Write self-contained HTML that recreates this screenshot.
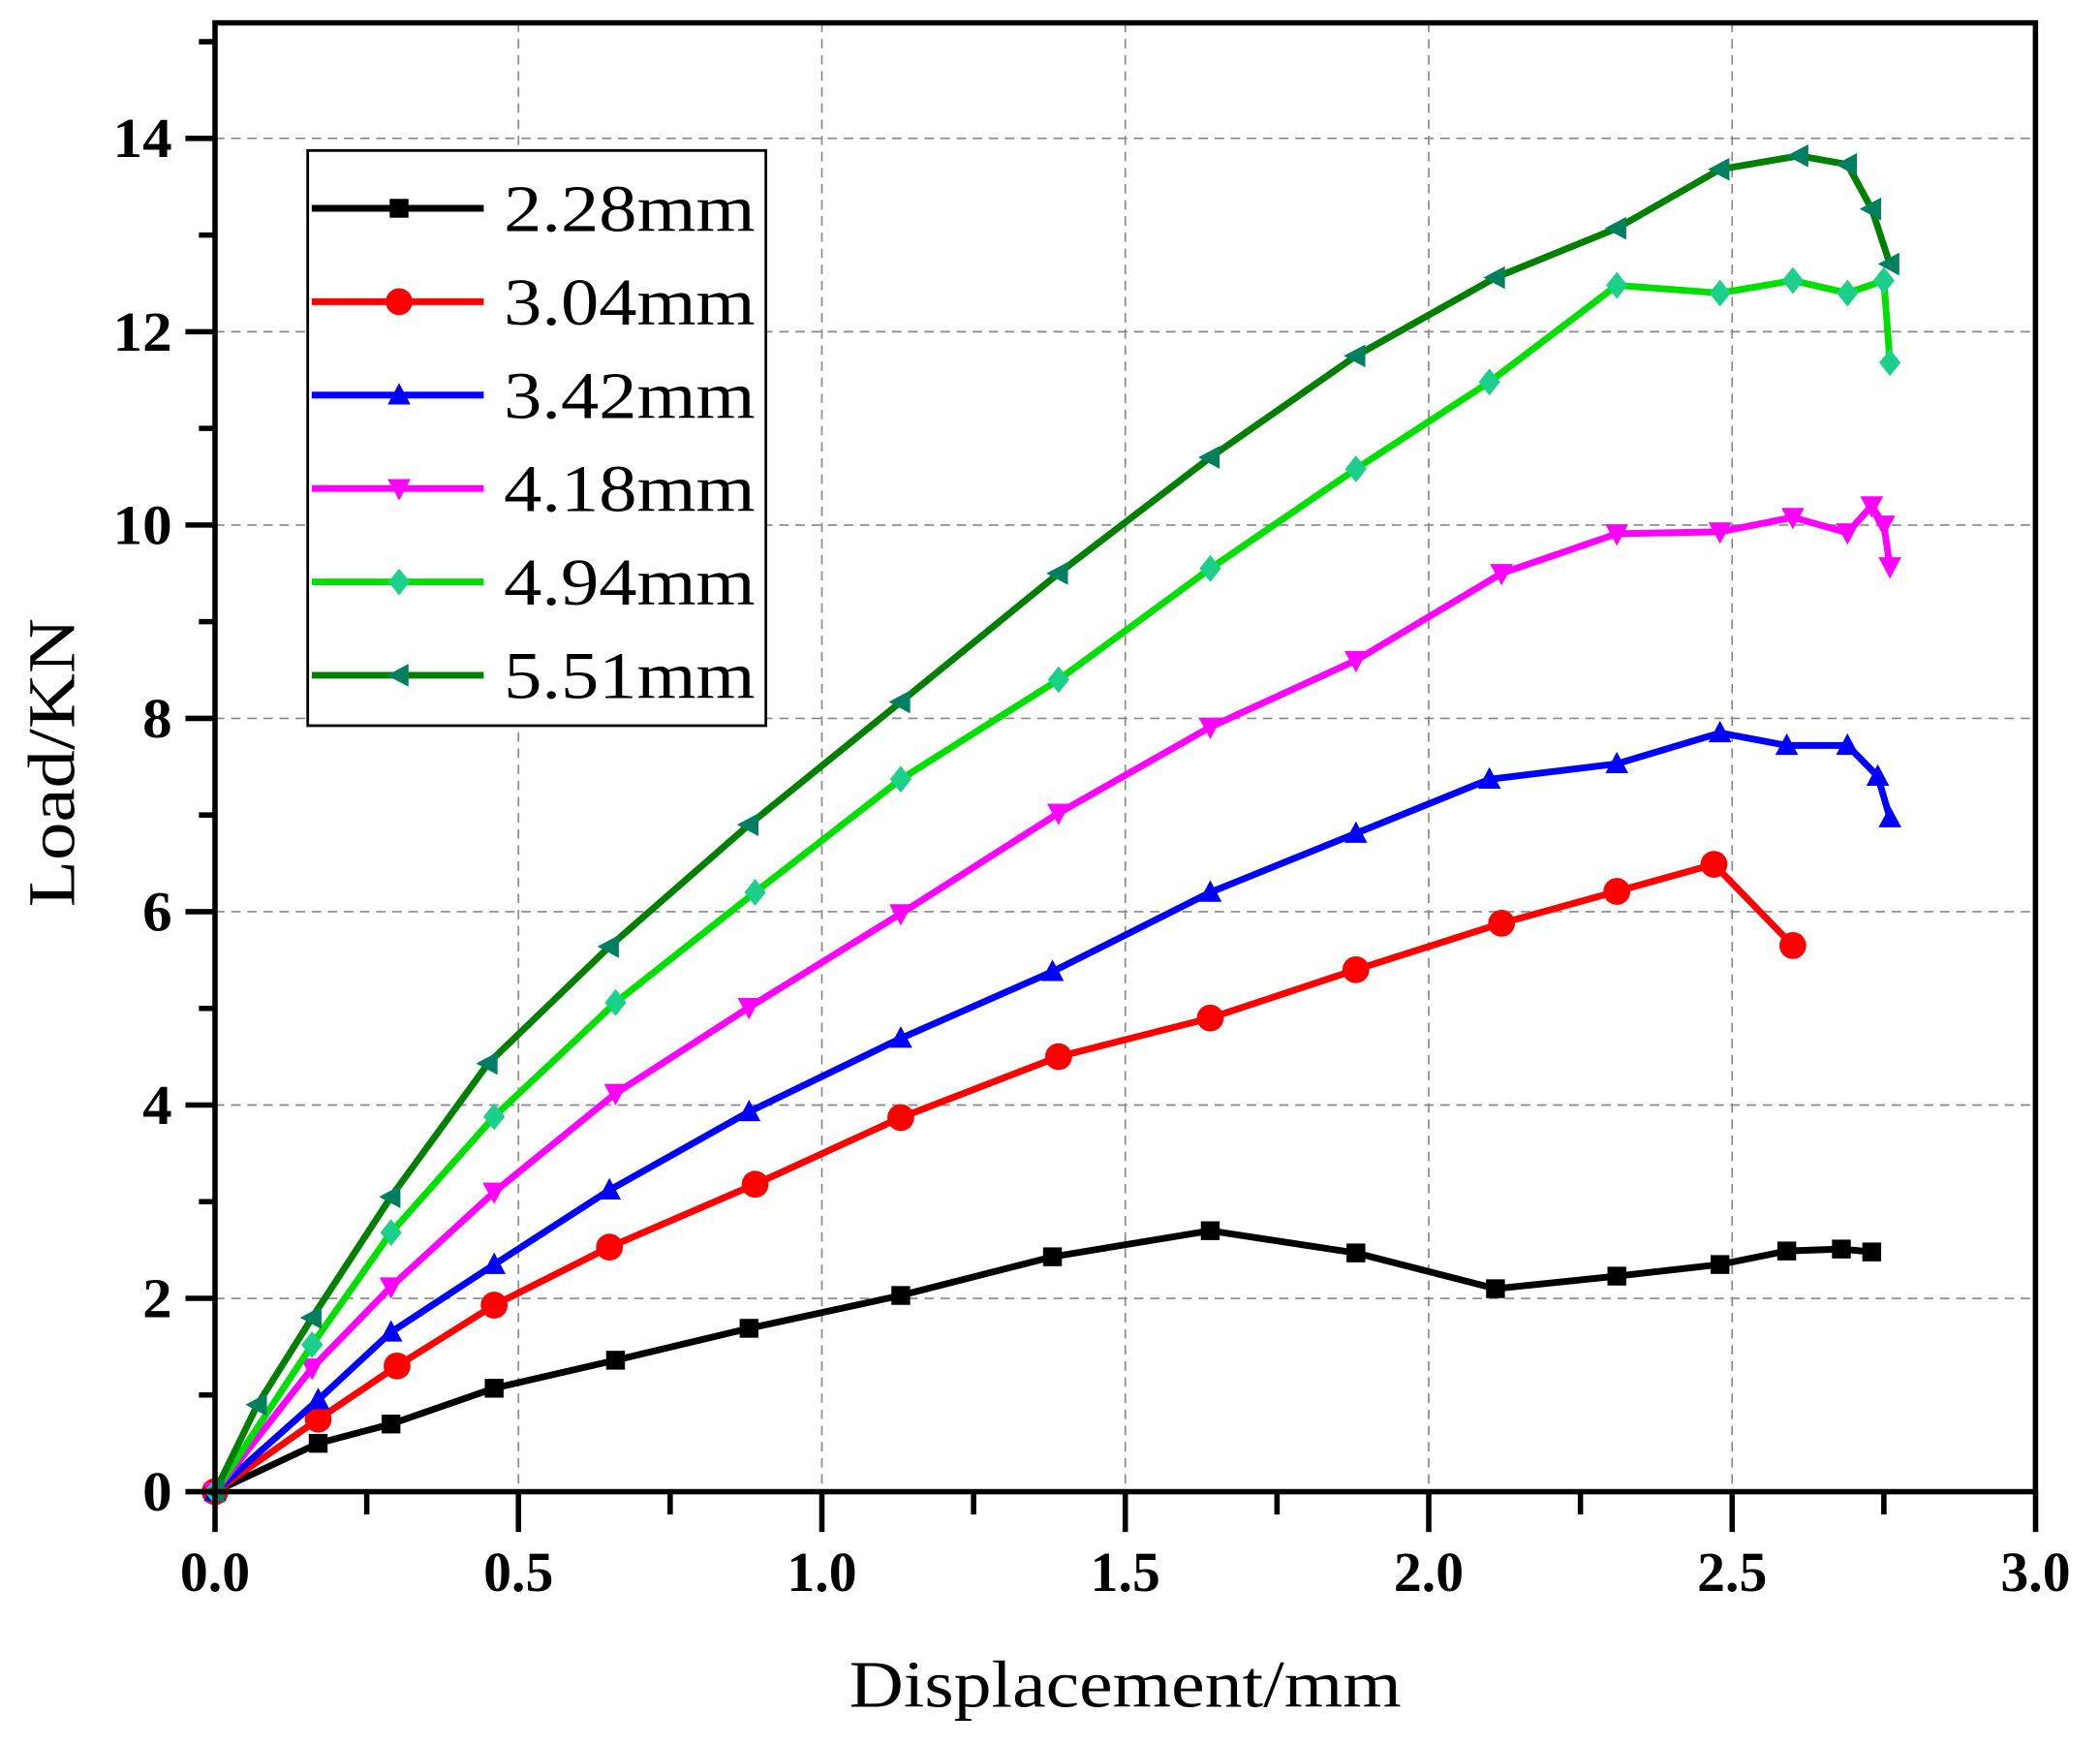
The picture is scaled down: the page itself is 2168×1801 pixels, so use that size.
<!DOCTYPE html>
<html><head><meta charset="utf-8"><style>html,body{margin:0;padding:0;background:#fff}svg{display:block}</style></head>
<body>
<svg id="s" xmlns="http://www.w3.org/2000/svg" width="2168" height="1801" viewBox="0 0 1563 1298.5">
<rect width="1563" height="1298.5" fill="#fff"/>
<g id="grid"></g><g id="data"></g><g id="axes"></g>
<text x="632" y="1270" font-family="Liberation Serif, serif" font-size="50" textLength="411" lengthAdjust="spacingAndGlyphs">Displacement/mm</text>
<text transform="translate(55,675) rotate(-90)" font-family="Liberation Serif, serif" font-size="50" textLength="215" lengthAdjust="spacingAndGlyphs">Load/KN</text>
<rect x="229" y="112" width="341" height="428" fill="#fff" stroke="#000" stroke-width="2"/>
<g id="leg"></g>
</svg>
<script>
var NS="http://www.w3.org/2000/svg";
function X(v){return 160+v*451.7}
function Y(v){return 1110-v*71.93}
function el(p,t,a){var e=document.createElementNS(NS,t);for(var k in a)e.setAttribute(k,a[k]);document.getElementById(p).appendChild(e);return e}
for(var i=1;i<=5;i++){el('grid','line',{x1:X(i*0.5),x2:X(i*0.5),y1:17,y2:1110,stroke:'#888','stroke-width':1.2,'stroke-dasharray':'7,5'})}
for(var j=2;j<=14;j+=2){el('grid','line',{x1:160,x2:1515,y1:Y(j),y2:Y(j),stroke:'#888','stroke-width':1.2,'stroke-dasharray':'7,5'})}
el('axes','rect',{x:160,y:17,width:1355,height:1093,fill:'none',stroke:'#000','stroke-width':4});
for(var i=0;i<=12;i++){var x=X(i*0.25),maj=i%2==0;el('axes','line',{x1:x,x2:x,y1:1110,y2:1110+(maj?30:17),stroke:'#000','stroke-width':4});
 if(maj){var t=el('axes','text',{x:x,y:1184,'font-family':'Liberation Serif, serif','font-size':42,'font-weight':'bold','text-anchor':'middle',textLength:52,lengthAdjust:'spacingAndGlyphs'});t.textContent=(i*0.25).toFixed(1);}}
for(var j=0;j<=15;j++){var y=Y(j),maj=j%2==0;el('axes','line',{x1:160,x2:160-(maj?22:12),y1:y,y2:y,stroke:'#000','stroke-width':4});
 if(maj){var s=String(j);var t=el('axes','text',{x:128,y:y+14,'font-family':'Liberation Serif, serif','font-size':42,'font-weight':'bold','text-anchor':'end',textLength:s.length*22,lengthAdjust:'spacingAndGlyphs'});t.textContent=s;}}
var S=[
{c:'#000',m:'#000',k:'sq',n:'2.28mm',d:[[0,0],[0.17,0.5],[0.29,0.7],[0.46,1.07],[0.66,1.36],[0.88,1.69],[1.13,2.03],[1.38,2.43],[1.64,2.7],[1.88,2.47],[2.11,2.1],[2.31,2.23],[2.48,2.35],[2.59,2.49],[2.68,2.51],[2.73,2.48]]},
{c:'#f00',m:'#f00',k:'ci',n:'3.04mm',d:[[0,0],[0.17,0.75],[0.3,1.3],[0.46,1.93],[0.65,2.53],[0.89,3.18],[1.13,3.87],[1.39,4.5],[1.64,4.9],[1.88,5.4],[2.12,5.88],[2.31,6.21],[2.47,6.49],[2.6,5.65]]},
{c:'#00f',m:'#00f',k:'up',n:'3.42mm',d:[[0,0],[0.17,0.95],[0.29,1.65],[0.46,2.35],[0.65,3.12],[0.88,3.93],[1.13,4.69],[1.38,5.38],[1.64,6.2],[1.88,6.81],[2.1,7.37],[2.31,7.53],[2.48,7.85],[2.59,7.72],[2.69,7.72],[2.74,7.4],[2.76,6.97]]},
{c:'#f0f',m:'#f0f',k:'dn',n:'4.18mm',d:[[0,0],[0.16,1.28],[0.29,2.12],[0.46,3.1],[0.66,4.12],[0.88,5.01],[1.13,5.98],[1.39,7.02],[1.64,7.91],[1.88,8.6],[2.12,9.5],[2.31,9.91],[2.48,9.93],[2.6,10.08],[2.69,9.92],[2.73,10.2],[2.75,10],[2.76,9.57]]},
{c:'#00e000',m:'#1ccf8a',k:'di',n:'4.94mm',d:[[0,0],[0.16,1.52],[0.29,2.68],[0.46,3.88],[0.66,5.06],[0.89,6.2],[1.13,7.37],[1.39,8.4],[1.64,9.55],[1.88,10.58],[2.1,11.48],[2.31,12.48],[2.48,12.4],[2.6,12.53],[2.69,12.4],[2.75,12.53],[2.76,11.68]]},
{c:'#008000',m:'#008060',k:'lt',n:'5.51mm',d:[[0,0],[0.07,0.9],[0.16,1.8],[0.29,3.05],[0.45,4.43],[0.65,5.64],[0.88,6.9],[1.13,8.17],[1.39,9.5],[1.64,10.7],[1.88,11.75],[2.11,12.56],[2.31,13.07],[2.48,13.68],[2.61,13.82],[2.69,13.73],[2.73,13.27],[2.76,12.7]]}];
function mk(g,k,x,y,col){
 if(k=='sq')el(g,'rect',{x:x-7,y:y-7,width:14,height:14,fill:col});
 else if(k=='ci')el(g,'circle',{cx:x,cy:y,r:10,fill:col});
 else if(k=='up')el(g,'polygon',{points:(x)+','+(y-9)+' '+(x-8.5)+','+(y+7)+' '+(x+8.5)+','+(y+7),fill:col});
 else if(k=='dn')el(g,'polygon',{points:(x)+','+(y+9)+' '+(x-8.5)+','+(y-7)+' '+(x+8.5)+','+(y-7),fill:col});
 else if(k=='di')el(g,'polygon',{points:x+','+(y-10)+' '+(x+8)+','+y+' '+x+','+(y+10)+' '+(x-8)+','+y,fill:col});
 else el(g,'polygon',{points:(x-9)+','+y+' '+(x+7)+','+(y-8.5)+' '+(x+7)+','+(y+8.5),fill:col});}
S.forEach(function(s,i){
 el('data','polyline',{points:s.d.map(function(p){return X(p[0])+','+Y(p[1])}).join(' '),fill:'none',stroke:s.c,'stroke-width':5,'stroke-linejoin':'round'});
 s.d.forEach(function(p){mk('data',s.k,X(p[0]),Y(p[1]),s.m)});
 var ly=155+i*69.5;
 el('leg','line',{x1:232,x2:360,y1:ly,y2:ly,stroke:s.c,'stroke-width':5});
 mk('leg',s.k,297,ly,s.m);
 var t=el('leg','text',{x:375,y:ly+17,'font-family':'Liberation Serif, serif','font-size':50,textLength:187,lengthAdjust:'spacingAndGlyphs'});t.textContent=s.n;
});
</script>
</body></html>
